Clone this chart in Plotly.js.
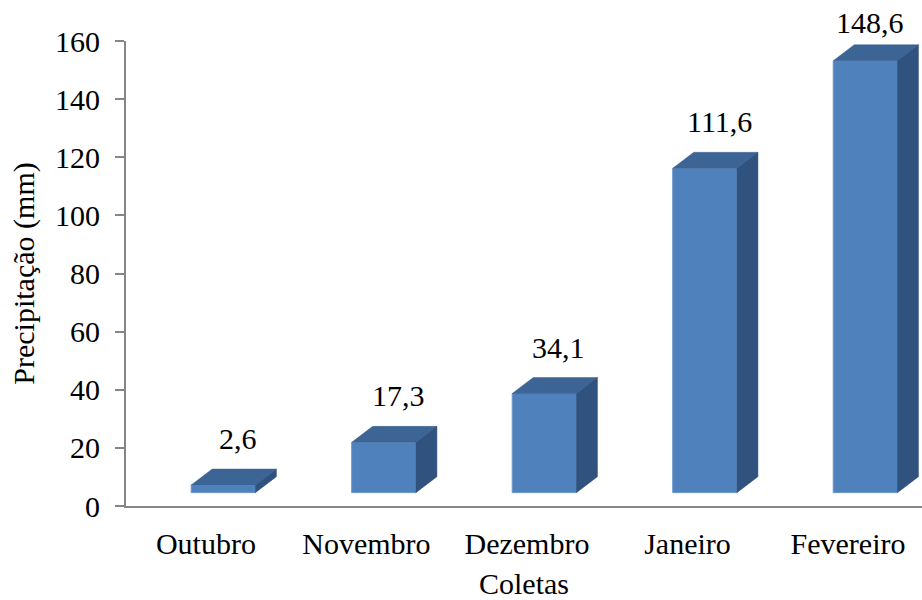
<!DOCTYPE html>
<html>
<head>
<meta charset="utf-8">
<script src="https://cdn.plot.ly/plotly-3.0.1.min.js"></script>
<style>html,body{margin:0;padding:0;background:#fff;}#chart{width:922px;height:600px;}</style>
</head>
<body>
<div id="chart"></div>
<script>
// Data
const categories = ["Outubro", "Novembro", "Dezembro", "Janeiro", "Fevereiro"];
const values = [2.6, 17.3, 34.1, 111.6, 148.6];
const valueLabels = ["2,6", "17,3", "34,1", "111,6", "148,6"];
const yTickVals = [0, 20, 40, 60, 80, 100, 120, 140, 160];

// 3D look parameters (in axis units)
const FLOOR = 4.6;      // front face floor offset
const OFFX = 0.108;     // front face shift to the right of category center
const HALFW = 0.2;      // half width of front face
const DX = 0.131;       // depth offset x
const DY = 5.5;         // depth offset y
const YMAX = 160;

const xs = categories.map((c, i) => i);

const topX = [], topY = [], sideX = [], sideY = [];
values.forEach((v, i) => {
  const xl = xs[i] + OFFX - HALFW, xr = xs[i] + OFFX + HALFW;
  const yt = v + FLOOR;
  topX.push(xl, xr, xr + DX, xl + DX, xl, null);
  topY.push(yt, yt, yt + DY, yt + DY, yt, null);
  sideX.push(xr, xr + DX, xr + DX, xr, xr, null);
  sideY.push(FLOOR, FLOOR + DY, yt + DY, yt, FLOOR, null);
});

const font = "'Liberation Serif', 'Times New Roman', serif";

const traces = [
  {
    type: "bar", x: xs.map(x => x + OFFX), y: values, base: FLOOR, width: 2 * HALFW,
    marker: {color: "#4F81BD", line: {color: "#6E97C9", width: 1}},
    hoverinfo: "skip", showlegend: false, cliponaxis: false
  },
  {
    type: "scatter", mode: "lines", x: topX, y: topY, fill: "toself",
    fillcolor: "#3C6494", line: {color: "#3C6494", width: 0.5},
    hoverinfo: "skip", showlegend: false, connectgaps: false, cliponaxis: false
  },
  {
    type: "scatter", mode: "lines", x: sideX, y: sideY, fill: "toself",
    fillcolor: "#30527F", line: {color: "#30527F", width: 0.5},
    hoverinfo: "skip", showlegend: false, connectgaps: false, cliponaxis: false
  }
];

const annotations = values.map((v, i) => {
  const nearTop = v + FLOOR + DY > YMAX - 10;
  return {
    x: xs[i] + OFFX + 0.09, y: v + FLOOR + DY, xref: "x", yref: "y",
    text: valueLabels[i], showarrow: false, yanchor: "bottom",
    yshift: nearTop ? 4 : 12, xshift: nearTop ? -10 : 0,
    font: {family: font, size: 30, color: "#000"}
  };
});

const layout = {
  width: 922, height: 600,
  margin: {l: 126, r: 0, t: 41, b: 94},
  paper_bgcolor: "#fff", plot_bgcolor: "#fff",
  font: {family: font, color: "#000"},
  showlegend: false,
  xaxis: {
    range: [-0.498, 4.461], tickvals: xs, ticktext: categories,
    showgrid: false, zeroline: false, showline: true, linecolor: "#868686", linewidth: 2,
    ticks: "", tickfont: {family: font, size: 30, color: "#000"}, ticklabelstandoff: 10,
    title: {text: "Coletas", font: {family: font, size: 30, color: "#000"}, standoff: 18},
    fixedrange: true
  },
  yaxis: {
    range: [0, YMAX], tickvals: yTickVals, ticktext: yTickVals.map(String),
    showgrid: false, zeroline: false, showline: true, linecolor: "#868686", linewidth: 2,
    ticks: "outside", ticklen: 9, tickwidth: 2, tickcolor: "#868686",
    tickfont: {family: font, size: 30, color: "#000"}, ticklabelstandoff: 9,
    title: {text: "Precipitação (mm)", font: {family: font, size: 30, color: "#000"}, standoff: 12},
    fixedrange: true
  },
  annotations: annotations
};

Plotly.newPlot("chart", traces, layout, {displayModeBar: false, staticPlot: true});
</script>
</body>
</html>
